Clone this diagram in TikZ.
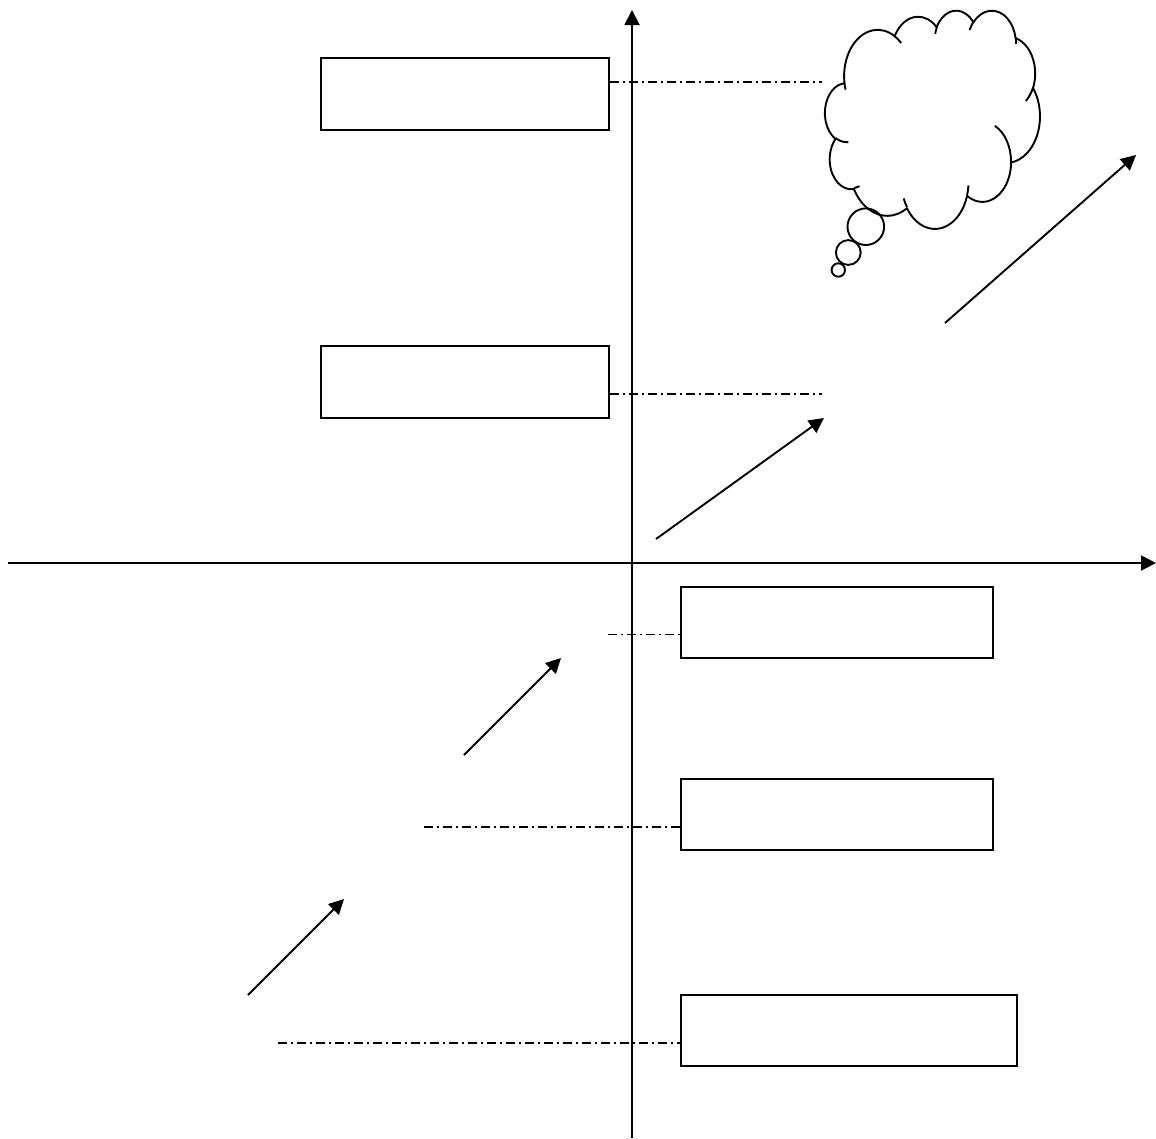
\documentclass[tikz,border=0pt]{standalone}
\usetikzlibrary{arrows.meta}
\def\sx{0.0049769}
\def\sy{0.0050463}
\def\sxh{0.49769}
\def\syh{0.50463}
\tikzset{
  declare function={tp(\a,\rx,\ry)=\a+(atan2(\rx*sin(\a),\ry*cos(\a))-\a)-360*round((atan2(\rx*sin(\a),\ry*cos(\a))-\a)/360);},
  box/.style={draw, line width=1.9pt, inner sep=0pt, minimum height=71pt},
  tip/.style={-{Triangle[length=15pt,width=15pt]}},
  axisline/.style={line width=1.9pt, tip},
  arr/.style={line width=1.9pt, tip},
  dd/.style={line width=1.8pt, dash pattern=on 9pt off 4pt on 2pt off 4pt},
  cloudline/.style={line width=1.9pt, line join=round},
  ooarc/.style n args={4}{insert path={arc[x radius={#1*\sx}, y radius={#2*\sy}, start angle={tp(-(#3),#1,#2)}, end angle={tp(-(#3)-(#4),#1,#2)}]}}
}
\begin{document}
\begin{tikzpicture}[x=1pt,y=1pt]
\useasboundingbox (0,0) rectangle (1156,-1138);
% axes
\coordinate (yb) at (632,-1138);
\coordinate (yt) at (632,-10);
\coordinate (xl) at (8,-563);
\coordinate (xr) at (1156,-563);
\draw[axisline] (yb) -- (yt);
\draw[axisline] (xl) -- (xr);
% boxes
\node[box, minimum width=288pt, minimum height=72pt] (b1) at (465,-94) {};
\node[box, minimum width=288pt, minimum height=72pt] (b2) at (465,-382) {};
\node[box, minimum width=312pt] (b3) at (837,-622.5) {};
\node[box, minimum width=312pt] (b4) at (837,-814.5) {};
\node[box, minimum width=336pt] (b5) at (849,-1030.5) {};
% dash-dot leaders
\coordinate (c1) at (822,-82);
\coordinate (c2) at (822,-394);
\coordinate (c3) at (608,-634.5);
\coordinate (c4) at (424,-827);
\coordinate (c5) at (278,-1043);
\draw[dd] (b1.east |- c1) -- (c1);
\draw[dd] (b2.east |- c2) -- (c2);
\draw[dd] (c3) -- (b3.west |- c3);
\draw[dd] (c4) -- (b4.west |- c4);
\draw[dd] (c5) -- (b5.west |- c5);
% arrows
\coordinate (a1s) at (945,-323); \coordinate (a1e) at (1136,-155);
\coordinate (a2s) at (656,-539); \coordinate (a2e) at (824,-418);
\coordinate (a3s) at (464,-755); \coordinate (a3e) at (561,-658);
\coordinate (a4s) at (248,-995); \coordinate (a4e) at (344,-899);
\draw[arr] (a1s) -- (a1e);
\draw[arr] (a2s) -- (a2e);
\draw[arr] (a3s) -- (a3e);
\draw[arr] (a4s) -- (a4e);
% cloud
\draw[cloudline] ({825+39.00*\sxh},{-10-143.70*\syh})
  [ooarc={6753}{9190}{-190.4875}{123.7805}]
  [ooarc={5333}{7267}{-144.1024}{89.9452}]
  [ooarc={4365}{5945}{-145.8079}{99.7230}]
  [ooarc={4857}{6595}{-130.9861}{117.2417}]
  [ooarc={5333}{7273}{-78.7089}{109.0269}]
  [ooarc={6775}{9220}{-46.2673}{130.2690}]
  [ooarc={5785}{7867}{0.6250}{114.0333}]
  [ooarc={6752}{9215}{22.4516}{115.1726}]
  [ooarc={7720}{10543}{66.2426}{75.7110}]
  [ooarc={4360}{5918}{-274.9421}{146.7356}]
  [ooarc={4345}{5945}{-246.8285}{152.5189}] -- cycle;
\draw[cloudline] ({825+46.93*\sxh},{-10-261.77*\syh}) [ooarc={4345}{5945}{86.7420}{26.4295}];
\draw[cloudline] ({825+69.28*\sxh},{-10-348.99*\syh}) [ooarc={4360}{5918}{73.6105}{11.4475}];
\draw[cloudline] ({825+164.78*\sxh},{-10-390.90*\syh}) [ooarc={6752}{9215}{137.6242}{14.0811}];
\draw[cloudline] ({825+288.27*\sxh},{-10-347.51*\syh}) [ooarc={6752}{9215}{6.4533}{15.9984}];
\draw[cloudline] ({825+341.29*\sxh},{-10-229.54*\syh}) [ooarc={5785}{7867}{-70.2924}{70.9174}];
\draw[cloudline] ({825+417.98*\sxh},{-10-153.54*\syh}) [ooarc={5333}{7273}{30.3180}{27.7515}];
\draw[cloudline] ({825+383.24*\sxh},{-10-54.26*\syh}) [ooarc={4857}{6595}{-13.7443}{14.8553}];
\draw[cloudline] ({825+290.78*\sxh},{-10-39.52*\syh}) [ooarc={4857}{6595}{-149.1815}{18.1959}];
\draw[cloudline] ({825+221.41*\sxh},{-10-47.20*\syh}) [ooarc={4365}{5945}{-163.4943}{17.6869}];
\draw[cloudline] ({825+140.00*\sxh},{-10-51.92*\syh}) [ooarc={6753}{9190}{-66.7070}{12.3194}];
\draw[cloudline] ({825+41.27*\sxh},{-10-157.89*\syh}) [ooarc={6753}{9190}{157.6544}{11.8582}];
% thought bubbles
\draw[cloudline] (865.8,-226.7) circle[radius=18.3];
\draw[cloudline] (848.3,-252.5) circle[radius=12.4];
\draw[cloudline] (838.3,-270) circle[radius=6.7];
\end{tikzpicture}
\end{document}
